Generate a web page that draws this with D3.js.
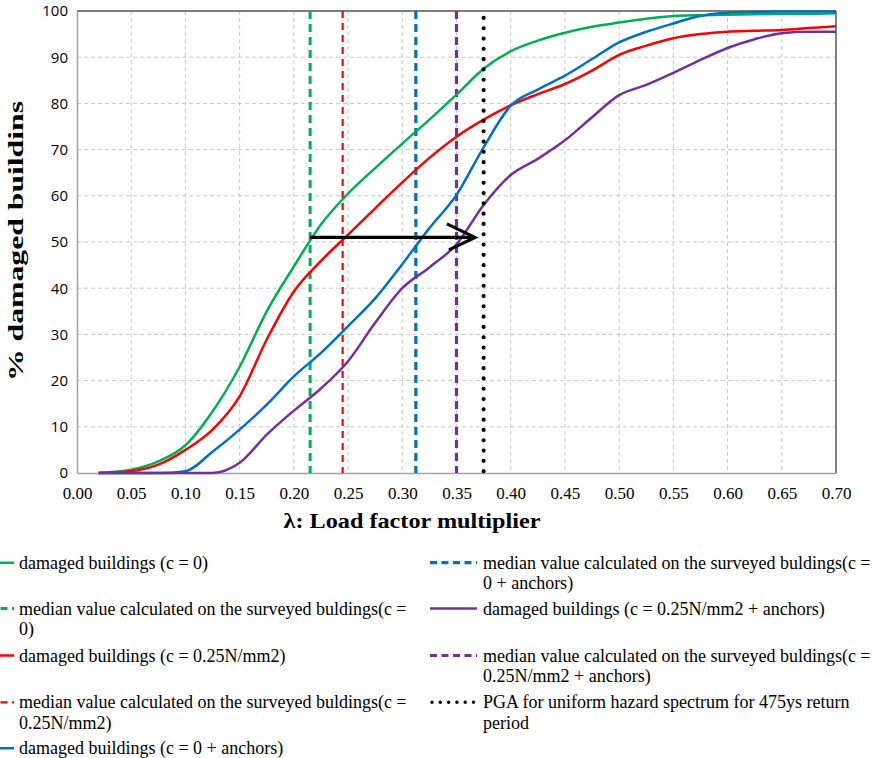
<!DOCTYPE html>
<html>
<head>
<meta charset="utf-8">
<script src="https://cdn.jsdelivr.net/npm/d3@7/dist/d3.min.js"></script>
<style>
  html, body { margin: 0; padding: 0; background: #fff; }
  svg { display: block; }
</style>
</head>
<body>
<svg id="chart" width="880" height="758"></svg>
<script>
// ---------------- DATA ----------------
const lambda = [0.02,0.05,0.075,0.10,0.125,0.15,0.175,0.20,0.225,0.25,0.275,0.30,0.325,0.35,0.375,0.40,0.425,0.45,0.475,0.50,0.525,0.55,0.575,0.60,0.625,0.65,0.675,0.70];
const greenC0      = [0,0.7,2.5,6,13.3,23,35,44.7,53.8,60.5,66,71.3,76.5,81.9,87.5,91.3,93.6,95.3,96.6,97.5,98.3,98.9,99.1,99.2,99.3,99.4,99.4,99.5];
const redC025      = [0,0.4,1.8,5,9.4,16.6,28.9,39.3,45.9,51.6,57.3,62.9,68.2,72.8,76.5,79.6,82,84.2,87.1,90.5,92.5,94.1,95,95.5,95.7,95.9,96.3,96.7];
const blueC0Anch   = [0,0,0,0.4,4.6,9.4,14.8,20.9,26,31.8,37.8,45.2,53,60.2,70.5,79.5,83,86,89.6,93.2,95.5,97.3,98.9,99.6,99.8,99.9,99.9,99.9];
const purpleC025An = [0,0,0,0,0,2.2,8.3,13.5,18.3,24.2,32.5,40,44.5,49.5,58,64.5,68,72,77,81.8,84,86.6,89.4,92,93.9,95.2,95.5,95.5];

const medianValues = [0.215, 0.245, 0.3125, 0.35];   // green, red, blue, purple
const pgaValue = 0.375;
const arrowFrom = [0.215, 51];
const arrowTo = [0.367, 51];

const xTicks = [0.00,0.05,0.10,0.15,0.20,0.25,0.30,0.35,0.40,0.45,0.50,0.55,0.60,0.65,0.70];
const yTicks = [0,10,20,30,40,50,60,70,80,90,100];

const xTitle = "λ: Load factor multiplier";
const yTitle = "% damaged buildins";

const legendLabels = [
  "damaged buildings (c = 0)",
  "median value calculated on the surveyed buldings(c =\n0)",
  "damaged buildings (c = 0.25N/mm2)",
  "median value calculated on the surveyed buldings(c =\n0.25N/mm2)",
  "damaged buildings (c = 0 + anchors)",
  "median value calculated on the surveyed buldings(c =\n0 + anchors)",
  "damaged buildings (c = 0.25N/mm2 + anchors)",
  "median value calculated on the surveyed buldings(c =\n0.25N/mm2  + anchors)",
  "PGA for uniform hazard spectrum for 475ys return\nperiod"
];

// ---------------- STYLE ----------------
const serif = "'Liberation Serif', 'Times New Roman', serif";
const colors = { green: "#00B050", red: "#FF0000", blue: "#0070C0", purple: "#7030A0", black: "#000000" };
const seriesStyles = [
  { vals: greenC0, color: colors.green },
  { vals: redC025, color: colors.red },
  { vals: blueC0Anch, color: colors.blue },
  { vals: purpleC025An, color: colors.purple }
];
const medianStyles = [
  { color: colors.green, width: 3, dash: "8,5" },
  { color: colors.red, width: 2.2, dash: "7,5" },
  { color: colors.blue, width: 3.2, dash: "8,5" },
  { color: colors.purple, width: 3.2, dash: "8,5" }
];

const svg = d3.select("#chart");
const L = 77, R = 836, T = 11, B = 473;
const x = d3.scaleLinear().domain([0, 0.7]).range([L, R]);
const y = d3.scaleLinear().domain([0, 100]).range([B, T]);

// grid
const grid = svg.append("g");
grid.selectAll("line.gx").data(xTicks.slice(1, -1)).join("line")
  .attr("x1", d => x(d)).attr("x2", d => x(d)).attr("y1", T).attr("y2", B)
  .attr("stroke", "#c8c8c8").attr("stroke-width", 1).attr("stroke-dasharray", "4,3");
grid.selectAll("line.gy").data(yTicks.slice(1, -1)).join("line")
  .attr("x1", L).attr("x2", R).attr("y1", d => y(d)).attr("y2", d => y(d))
  .attr("stroke", "#c8c8c8").attr("stroke-width", 1).attr("stroke-dasharray", "4,3");

// frame
svg.append("line").attr("x1", L).attr("x2", R).attr("y1", T).attr("y2", T).attr("stroke", "#555").attr("stroke-width", 1.5);
svg.append("line").attr("x1", R).attr("x2", R).attr("y1", T).attr("y2", B).attr("stroke", "#808080").attr("stroke-width", 2);

// axes
const xAxis = d3.axisBottom(x).tickValues(xTicks).tickFormat(d3.format(".2f")).tickSize(0).tickPadding(14);
const gx = svg.append("g").attr("transform", `translate(0,${B})`).call(xAxis);
gx.attr("font-family", serif);
gx.select(".domain").attr("stroke", "#a0a0a0").attr("stroke-width", 1.5);
gx.selectAll("text").attr("font-family", serif).attr("font-size", 17).attr("fill", "#000");

const yAxis = d3.axisLeft(y).tickValues(yTicks).tickFormat(d3.format("d")).tickSize(0).tickPadding(9);
const gy = svg.append("g").attr("transform", `translate(${L},0)`).call(yAxis);
gy.attr("font-family", "'Open Sans', sans-serif");
gy.select(".domain").attr("stroke", "#a0a0a0").attr("stroke-width", 1.5);
gy.selectAll("text").attr("font-family", "'Open Sans', sans-serif").attr("font-size", 15).attr("fill", "#000");

// median lines
const medG = svg.append("g");
medG.selectAll("line").data(medianValues).join("line")
  .attr("x1", d => x(d)).attr("x2", d => x(d)).attr("y1", y(100)).attr("y2", y(0))
  .attr("stroke", (d, i) => medianStyles[i].color)
  .attr("stroke-width", (d, i) => medianStyles[i].width)
  .attr("stroke-dasharray", (d, i) => medianStyles[i].dash);

// curves
const lineGen = vals => d3.line()
  .x((d, i) => x(lambda[i])).y(d => y(d))
  .curve(d3.curveMonotoneX)(vals);
svg.append("g").selectAll("path").data(seriesStyles).join("path")
  .attr("d", d => lineGen(d.vals))
  .attr("fill", "none").attr("stroke", d => d.color).attr("stroke-width", 2.5)
  .attr("stroke-linejoin", "round");

// PGA dotted line
svg.append("line")
  .attr("x1", x(pgaValue)).attr("x2", x(pgaValue)).attr("y1", y(98.5)).attr("y2", y(0))
  .attr("stroke", "#000").attr("stroke-width", 4.2).attr("stroke-linecap", "round")
  .attr("stroke-dasharray", "0,10.3");

// arrow
const ax1 = x(arrowFrom[0]), ay = y(arrowFrom[1]), ax2 = x(arrowTo[0]);
svg.append("line").attr("x1", ax1).attr("x2", ax2 - 2).attr("y1", ay).attr("y2", ay)
  .attr("stroke", "#000").attr("stroke-width", 3.2);
svg.append("path")
  .attr("d", `M${ax2 - 28},${ay - 13.5} L${ax2},${ay} L${ax2 - 26},${ay + 12.5}`)
  .attr("fill", "none").attr("stroke", "#000").attr("stroke-width", 3.2).attr("stroke-linejoin", "miter");

// axis titles
svg.append("text").attr("x", 412).attr("y", 528).attr("text-anchor", "middle")
  .attr("font-family", serif).attr("font-weight", "bold")
  .attr("font-size", 21).attr("textLength", 257).attr("lengthAdjust", "spacingAndGlyphs").text(xTitle);
svg.append("text").attr("transform", "translate(23,241) rotate(-90)").attr("text-anchor", "middle")
  .attr("font-family", serif).attr("font-weight", "bold")
  .attr("font-size", 21).attr("textLength", 280).attr("lengthAdjust", "spacingAndGlyphs").text(yTitle);

// legend
const legendKeys = [
  { color: colors.green, type: "solid" },
  { color: colors.green, type: "dash", w: 3 },
  { color: colors.red, type: "solid" },
  { color: colors.red, type: "dash", w: 2.2 },
  { color: colors.blue, type: "solid" },
  { color: colors.blue, type: "dash", w: 3.2 },
  { color: colors.purple, type: "solid" },
  { color: colors.purple, type: "dash", w: 3.2 },
  { color: "#000", type: "dot" }
];
const rowY = [562.7, 608.5, 655.5, 702.3, 748.3];
const leg = svg.append("g");
legendKeys.forEach((k, i) => {
  const col = i < 5 ? 0 : 1;
  const row = i < 5 ? i : i - 5;
  const cy = rowY[row];
  const lx1 = col === 0 ? -34 : 430, lx2 = col === 0 ? 14 : 477, tx = col === 0 ? 19 : 483;
  const ln = leg.append("line").attr("x1", lx1).attr("x2", lx2).attr("y1", cy).attr("y2", cy)
    .attr("stroke", k.color);
  if (k.type === "solid") ln.attr("stroke-width", 2.5);
  if (k.type === "dash") ln.attr("stroke-width", k.w).attr("stroke-dasharray", "7,4.5");
  if (k.type === "dot") ln.attr("x1", 432).attr("stroke-width", 3.5).attr("stroke-linecap", "round").attr("stroke-dasharray", "0,8.3");
  const t = leg.append("text").attr("x", tx).attr("y", cy + 6)
    .attr("font-family", serif).attr("font-size", 18).attr("fill", "#000");
  legendLabels[i].split("\n").forEach((s, j) => {
    t.append("tspan").attr("x", tx).attr("dy", j === 0 ? 0 : 20.3).text(s);
  });
});
</script>
</body>
</html>
